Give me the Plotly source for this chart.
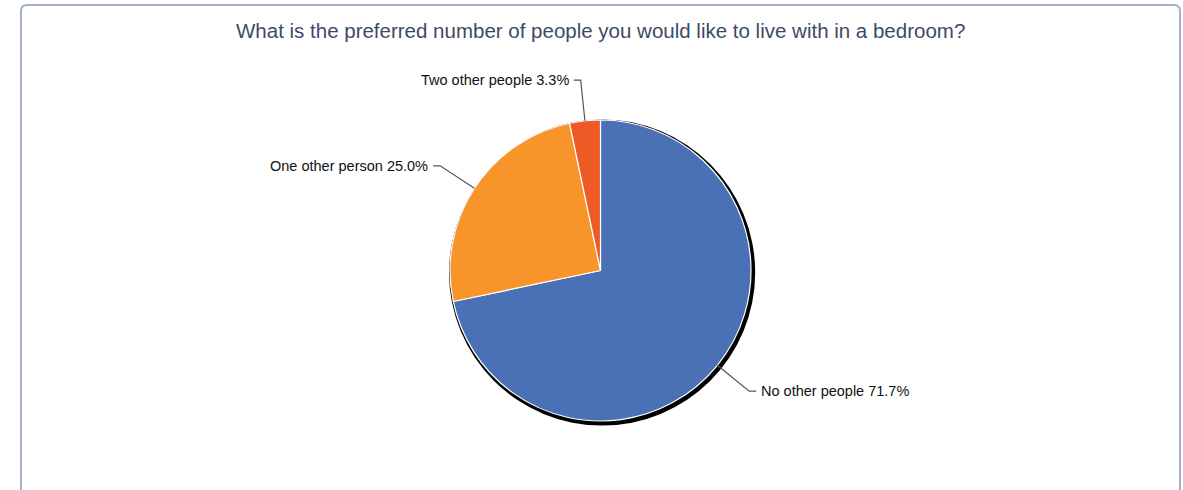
import math
import plotly.graph_objects as go

categories = ["No other people", "One other person", "Two other people"]
values = [71.7, 25.0, 3.3]
colors = ["#4a71b6", "#f7952a", "#ee5a26"]
title = "What is the preferred number of people you would like to live with in a bedroom?"

W, H = 1183, 490
CX, CY, R = 600.5, 270.5, 150.5


def px(x):
    return x / W


def py(y):
    return 1 - y / H


def domain(cx, cy, r):
    return dict(x=[px(cx - r), px(cx + r)], y=[py(cy + r), py(cy - r)])


fig = go.Figure()
# drop shadow
fig.add_trace(go.Pie(values=[1], marker=dict(colors=["#000000"], line=dict(width=0)),
                     domain=domain(CX + 1.6, CY + 2.0, R + 2.6), textinfo="none",
                     hoverinfo="skip", showlegend=False, sort=False))
fig.add_trace(go.Pie(labels=categories, values=values, sort=False, direction="clockwise",
                     rotation=0, marker=dict(colors=colors, line=dict(color="white", width=1.2)),
                     domain=domain(CX, CY, R), textinfo="none", hoverinfo="label+percent",
                     showlegend=False))

shapes = []
annotations = []
total = sum(values)
cum = 0.0
for cat, v in zip(categories, values):
    mid = (cum + v / 2) / total * 2 * math.pi
    cum += v
    sx, sy = CX + R * math.sin(mid), CY - R * math.cos(mid)
    ex, ey = CX + (R + 41) * math.sin(mid), CY - (R + 41) * math.cos(mid)
    side = 1 if math.sin(mid) >= 0 else -1
    hx = ex + side * 7
    shapes.append(dict(type="path", xref="paper", yref="paper",
                       path=f"M {px(sx)},{py(sy)} L {px(ex)},{py(ey)} L {px(hx)},{py(ey)}",
                       line=dict(color="#555555", width=1.2)))
    annotations.append(dict(x=px(hx + side * 3), y=py(ey), xref="paper", yref="paper",
                            text=f"{cat} {v:.1f}%", showarrow=False,
                            xanchor="left" if side > 0 else "right", yanchor="middle",
                            font=dict(family="Liberation Sans, Arial", size=14.5, color="#111111")))

annotations.append(dict(x=px(601), y=py(31), xref="paper", yref="paper", text=title,
                        showarrow=False, xanchor="center", yanchor="middle",
                        font=dict(family="Liberation Sans, Arial", size=20.5, color="#3d4a66")))

# rounded frame
x0, y0, x1, y1, rr = 21, 5, 1180, 500, 6
frame = (f"M {px(x0)},{py(y1)} L {px(x0)},{py(y0 + rr)} "
         f"Q {px(x0)},{py(y0)} {px(x0 + rr)},{py(y0)} "
         f"L {px(x1 - rr)},{py(y0)} Q {px(x1)},{py(y0)} {px(x1)},{py(y0 + rr)} "
         f"L {px(x1)},{py(y1)}")
shapes.append(dict(type="path", xref="paper", yref="paper", path=frame,
                   line=dict(color="#a3b1cb", width=2)))

fig.update_layout(width=W, height=H, margin=dict(l=0, r=0, t=0, b=0),
                  paper_bgcolor="white", plot_bgcolor="white",
                  shapes=shapes, annotations=annotations, showlegend=False)
fig.write_html("out.html", config={"displayModeBar": False},
               post_script="document.body.style.margin='0';document.body.style.overflow='hidden';")
